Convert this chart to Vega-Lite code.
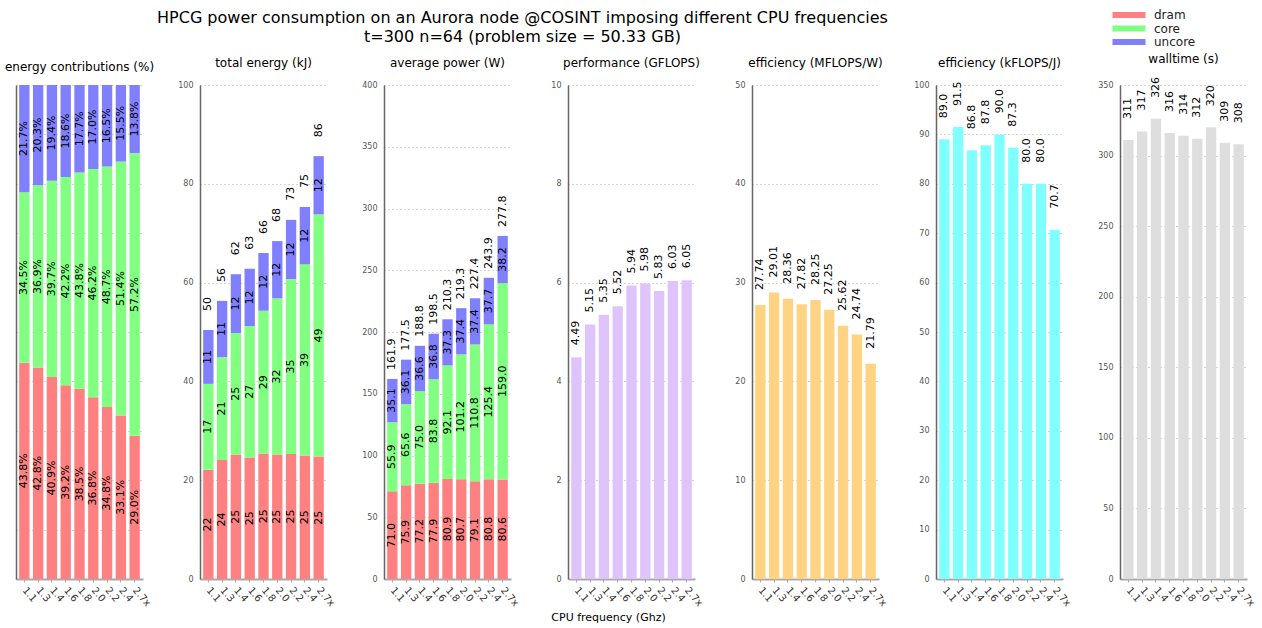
{
  "$schema": "https://vega.github.io/schema/vega-lite/v6.json",
  "title": {
    "text": ["HPCG power consumption on an Aurora node @COSINT imposing different CPU frequencies", "t=300 n=64 (problem size = 50.33 GB)"],
    "fontSize": 16, "fontWeight": "normal", "anchor": "middle", "dx": -108, "offset": -36, "lineHeight": 19, "color": "#000"
  },
  "padding": {"left": 4, "right": 15, "top": 9, "bottom": 4},
  "spacing": 57,
  "bounds": "flush",
  "datasets": {
    "parts": [
      {"freq": "1.1", "part": "dram", "share": 0.438, "energy": 22.1, "power": 71.0},
      {"freq": "1.1", "part": "core", "share": 0.345, "energy": 17.4, "power": 55.9},
      {"freq": "1.1", "part": "uncore", "share": 0.217, "energy": 10.9, "power": 35.1},
      {"freq": "1.3", "part": "dram", "share": 0.428, "energy": 24.1, "power": 75.9},
      {"freq": "1.3", "part": "core", "share": 0.369, "energy": 20.8, "power": 65.6},
      {"freq": "1.3", "part": "uncore", "share": 0.203, "energy": 11.4, "power": 36.1},
      {"freq": "1.4", "part": "dram", "share": 0.409, "energy": 25.2, "power": 77.2},
      {"freq": "1.4", "part": "core", "share": 0.397, "energy": 24.6, "power": 75.0},
      {"freq": "1.4", "part": "uncore", "share": 0.194, "energy": 11.9, "power": 36.6},
      {"freq": "1.6", "part": "dram", "share": 0.392, "energy": 24.6, "power": 77.9},
      {"freq": "1.6", "part": "core", "share": 0.422, "energy": 26.6, "power": 83.8},
      {"freq": "1.6", "part": "uncore", "share": 0.186, "energy": 11.6, "power": 36.8},
      {"freq": "1.8", "part": "dram", "share": 0.385, "energy": 25.4, "power": 80.9},
      {"freq": "1.8", "part": "core", "share": 0.438, "energy": 28.9, "power": 92.1},
      {"freq": "1.8", "part": "uncore", "share": 0.177, "energy": 11.7, "power": 37.3},
      {"freq": "2.0", "part": "dram", "share": 0.368, "energy": 25.2, "power": 80.7},
      {"freq": "2.0", "part": "core", "share": 0.462, "energy": 31.6, "power": 101.2},
      {"freq": "2.0", "part": "uncore", "share": 0.170, "energy": 11.6, "power": 37.4},
      {"freq": "2.2", "part": "dram", "share": 0.348, "energy": 25.3, "power": 79.1},
      {"freq": "2.2", "part": "core", "share": 0.487, "energy": 35.4, "power": 110.8},
      {"freq": "2.2", "part": "uncore", "share": 0.165, "energy": 12.0, "power": 37.4},
      {"freq": "2.4", "part": "dram", "share": 0.331, "energy": 25.0, "power": 80.8},
      {"freq": "2.4", "part": "core", "share": 0.514, "energy": 38.7, "power": 125.4},
      {"freq": "2.4", "part": "uncore", "share": 0.155, "energy": 11.6, "power": 37.7},
      {"freq": "2.7x", "part": "dram", "share": 0.290, "energy": 24.8, "power": 80.6},
      {"freq": "2.7x", "part": "core", "share": 0.572, "energy": 49.0, "power": 159.0},
      {"freq": "2.7x", "part": "uncore", "share": 0.138, "energy": 11.8, "power": 38.2}
    ],
    "runs": [
      {"freq": "1.1", "energy": 50.4, "power": 161.9, "gflops": 4.49, "mflops_w": 27.74, "kflops_j": 89.0, "walltime": 311},
      {"freq": "1.3", "energy": 56.3, "power": 177.5, "gflops": 5.15, "mflops_w": 29.01, "kflops_j": 91.5, "walltime": 317},
      {"freq": "1.4", "energy": 61.7, "power": 188.8, "gflops": 5.35, "mflops_w": 28.36, "kflops_j": 86.8, "walltime": 326},
      {"freq": "1.6", "energy": 62.8, "power": 198.5, "gflops": 5.52, "mflops_w": 27.82, "kflops_j": 87.8, "walltime": 316},
      {"freq": "1.8", "energy": 66.0, "power": 210.3, "gflops": 5.94, "mflops_w": 28.25, "kflops_j": 90.0, "walltime": 314},
      {"freq": "2.0", "energy": 68.4, "power": 219.3, "gflops": 5.98, "mflops_w": 27.25, "kflops_j": 87.3, "walltime": 312},
      {"freq": "2.2", "energy": 72.7, "power": 227.4, "gflops": 5.83, "mflops_w": 25.62, "kflops_j": 80.0, "walltime": 320},
      {"freq": "2.4", "energy": 75.3, "power": 243.9, "gflops": 6.03, "mflops_w": 24.74, "kflops_j": 80.0, "walltime": 309},
      {"freq": "2.7x", "energy": 85.6, "power": 277.8, "gflops": 6.05, "mflops_w": 21.79, "kflops_j": 70.7, "walltime": 308}
    ]
  },
  "hconcat": [
    {
      "title": "energy contributions (%)",
      "width": 127, "height": 494,
      "data": {"name": "parts"},
      "transform": [{"calculate": "indexof(['dram','core','uncore'], datum.part)", "as": "rank"}],
      "layer": [
        {
          "mark": "bar",
          "encoding": {
            "x": {"field": "freq", "type": "ordinal", "sort": null, "title": null},
            "y": {"field": "share", "type": "quantitative", "stack": "zero", "title": null,
                  "scale": {"domain": [0, 1], "nice": false},
                  "axis": {"labels": false, "values": [0, 0.1, 0.2, 0.3, 0.4, 0.5, 0.6, 0.7, 0.8, 0.9, 1]}},
            "order": {"field": "rank", "type": "quantitative"},
            "color": {"field": "part", "type": "nominal",
                      "scale": {"domain": ["dram", "core", "uncore"], "range": ["#ff8080", "#80ff80", "#8080ff"]}}
          }
        },
        {
          "mark": {"type": "text", "angle": 270, "align": "center", "baseline": "middle"},
          "encoding": {
            "x": {"field": "freq", "type": "ordinal", "sort": null, "title": null},
            "y": {"field": "share", "type": "quantitative", "stack": "zero", "bandPosition": 0.5, "title": null},
            "order": {"field": "rank", "type": "quantitative"},
            "detail": {"field": "part", "type": "nominal"},
            "text": {"field": "share", "type": "quantitative", "format": ".1%"}
          }
        }
      ]
    },
    {
      "title": "total energy (kJ)",
      "width": 127, "height": 494,
      "layer": [
        {
          "data": {"name": "parts"},
          "transform": [{"calculate": "indexof(['dram','core','uncore'], datum.part)", "as": "rank"}],
          "mark": "bar",
          "encoding": {
            "x": {"field": "freq", "type": "ordinal", "sort": null, "title": null},
            "y": {"field": "energy", "type": "quantitative", "stack": "zero", "title": null,
                  "scale": {"domain": [0, 100], "nice": false},
                  "axis": {"values": [0, 20, 40, 60, 80, 100]}},
            "order": {"field": "rank", "type": "quantitative"},
            "color": {"field": "part", "type": "nominal",
                      "scale": {"domain": ["dram", "core", "uncore"], "range": ["#ff8080", "#80ff80", "#8080ff"]}}
          }
        },
        {
          "data": {"name": "parts"},
          "transform": [{"calculate": "indexof(['dram','core','uncore'], datum.part)", "as": "rank"}],
          "mark": {"type": "text", "angle": 270, "align": "center", "baseline": "middle"},
          "encoding": {
            "x": {"field": "freq", "type": "ordinal", "sort": null, "title": null},
            "y": {"field": "energy", "type": "quantitative", "stack": "zero", "bandPosition": 0.5, "title": null},
            "order": {"field": "rank", "type": "quantitative"},
            "detail": {"field": "part", "type": "nominal"},
            "text": {"field": "energy", "type": "quantitative", "format": ".0f"}
          }
        },
        {
          "data": {"name": "runs"},
          "mark": {"type": "text", "angle": 270, "align": "left", "baseline": "middle", "dx": 19},
          "encoding": {
            "x": {"field": "freq", "type": "ordinal", "sort": null, "title": null},
            "y": {"field": "energy", "type": "quantitative", "title": null},
            "text": {"field": "energy", "type": "quantitative", "format": ".0f"}
          }
        }
      ]
    },
    {
      "title": "average power (W)",
      "width": 127, "height": 494,
      "layer": [
        {
          "data": {"name": "parts"},
          "transform": [{"calculate": "indexof(['dram','core','uncore'], datum.part)", "as": "rank"}],
          "mark": "bar",
          "encoding": {
            "x": {"field": "freq", "type": "ordinal", "sort": null, "title": null},
            "y": {"field": "power", "type": "quantitative", "stack": "zero", "title": null,
                  "scale": {"domain": [0, 400], "nice": false},
                  "axis": {"values": [0, 50, 100, 150, 200, 250, 300, 350, 400]}},
            "order": {"field": "rank", "type": "quantitative"},
            "color": {"field": "part", "type": "nominal",
                      "scale": {"domain": ["dram", "core", "uncore"], "range": ["#ff8080", "#80ff80", "#8080ff"]}}
          }
        },
        {
          "data": {"name": "parts"},
          "transform": [{"calculate": "indexof(['dram','core','uncore'], datum.part)", "as": "rank"}],
          "mark": {"type": "text", "angle": 270, "align": "center", "baseline": "middle"},
          "encoding": {
            "x": {"field": "freq", "type": "ordinal", "sort": null, "title": null},
            "y": {"field": "power", "type": "quantitative", "stack": "zero", "bandPosition": 0.5, "title": null},
            "order": {"field": "rank", "type": "quantitative"},
            "detail": {"field": "part", "type": "nominal"},
            "text": {"field": "power", "type": "quantitative", "format": ".1f"}
          }
        },
        {
          "data": {"name": "runs"},
          "mark": {"type": "text", "angle": 270, "align": "left", "baseline": "middle", "dx": 9},
          "encoding": {
            "x": {"field": "freq", "type": "ordinal", "sort": null, "title": null},
            "y": {"field": "power", "type": "quantitative", "title": null},
            "text": {"field": "power", "type": "quantitative", "format": ".1f"}
          }
        }
      ]
    },
    {
      "title": "performance (GFLOPS)",
      "width": 127, "height": 494,
      "data": {"name": "runs"},
      "encoding": {
        "x": {"field": "freq", "type": "ordinal", "sort": null,
              "axis": {"title": "CPU frequency (Ghz)", "titleX": 40, "titleY": 38, "titleAlign": "center", "titleBaseline": "middle"}},
        "y": {"field": "gflops", "type": "quantitative", "title": null,
              "scale": {"domain": [0, 10], "nice": false},
              "axis": {"values": [0, 2, 4, 6, 8, 10]}}
      },
      "layer": [
        {"mark": {"type": "bar", "color": "#dfc4fb"}},
        {"mark": {"type": "text", "angle": 270, "align": "left", "baseline": "middle", "dx": 12},
         "encoding": {"text": {"field": "gflops", "type": "quantitative", "format": ".2f"}}}
      ]
    },
    {
      "title": "efficiency (MFLOPS/W)",
      "width": 127, "height": 494,
      "data": {"name": "runs"},
      "encoding": {
        "x": {"field": "freq", "type": "ordinal", "sort": null, "title": null},
        "y": {"field": "mflops_w", "type": "quantitative", "title": null,
              "scale": {"domain": [0, 50], "nice": false},
              "axis": {"values": [0, 10, 20, 30, 40, 50]}}
      },
      "layer": [
        {"mark": {"type": "bar", "color": "#ffd382"}},
        {"mark": {"type": "text", "angle": 270, "align": "left", "baseline": "middle", "dx": 15},
         "encoding": {"text": {"field": "mflops_w", "type": "quantitative", "format": ".2f"}}}
      ]
    },
    {
      "title": "efficiency (kFLOPS/J)",
      "width": 127, "height": 494,
      "data": {"name": "runs"},
      "encoding": {
        "x": {"field": "freq", "type": "ordinal", "sort": null, "title": null},
        "y": {"field": "kflops_j", "type": "quantitative", "title": null,
              "scale": {"domain": [0, 100], "nice": false},
              "axis": {"values": [0, 10, 20, 30, 40, 50, 60, 70, 80, 90, 100]}}
      },
      "layer": [
        {"mark": {"type": "bar", "color": "#80ffff"}},
        {"mark": {"type": "text", "angle": 270, "align": "left", "baseline": "middle", "dx": 21},
         "encoding": {"text": {"field": "kflops_j", "type": "quantitative", "format": ".1f"}}}
      ]
    },
    {
      "title": "walltime (s)",
      "width": 127, "height": 494,
      "data": {"name": "runs"},
      "encoding": {
        "x": {"field": "freq", "type": "ordinal", "sort": null, "title": null},
        "y": {"field": "walltime", "type": "quantitative", "title": null,
              "scale": {"domain": [0, 350], "nice": false},
              "axis": {"values": [0, 50, 100, 150, 200, 250, 300, 350]}}
      },
      "layer": [
        {"mark": {"type": "bar", "color": "#dedede"}},
        {"mark": {"type": "text", "angle": 270, "align": "left", "baseline": "middle", "dx": 21},
         "encoding": {"text": {"field": "walltime", "type": "quantitative", "format": ".0f"}}}
      ]
    }
  ],
  "config": {
    "font": "DejaVu Sans",
    "view": {"stroke": null},
    "scale": {"bandPaddingInner": 0.25, "bandPaddingOuter": 0.23},
    "axisX": {"labelAngle": 50, "labelFontSize": 10, "labelColor": "#333", "domainColor": "#aaa", "domainWidth": 2,
              "tickColor": "#aaa", "tickSize": 3, "grid": false, "labelPadding": 6,
              "titleFontSize": 11, "titleFontWeight": "normal", "titleColor": "#000"},
    "axisY": {"labelFontSize": 8, "labelColor": "#555", "domainColor": "#666", "domainWidth": 1.5, "ticks": false,
              "labelPadding": 7, "grid": true, "gridColor": "#aaa", "gridDash": [1, 3], "gridWidth": 1},
    "title": {"fontSize": 12, "fontWeight": "normal", "offset": 11, "color": "#000"},
    "text": {"fontSize": 11, "color": "#000"},
    "legend": {"orient": "none", "legendX": 1107, "legendY": -76, "title": null, "padding": 0,
               "symbolType": "M-3,-0.55H3V0.55H-3Z", "symbolSize": 121, "symbolStrokeWidth": 0, "symbolOpacity": 1,
               "labelFontSize": 12, "labelColor": "#222", "labelOffset": 19, "rowPadding": 1.5}
  }
}
